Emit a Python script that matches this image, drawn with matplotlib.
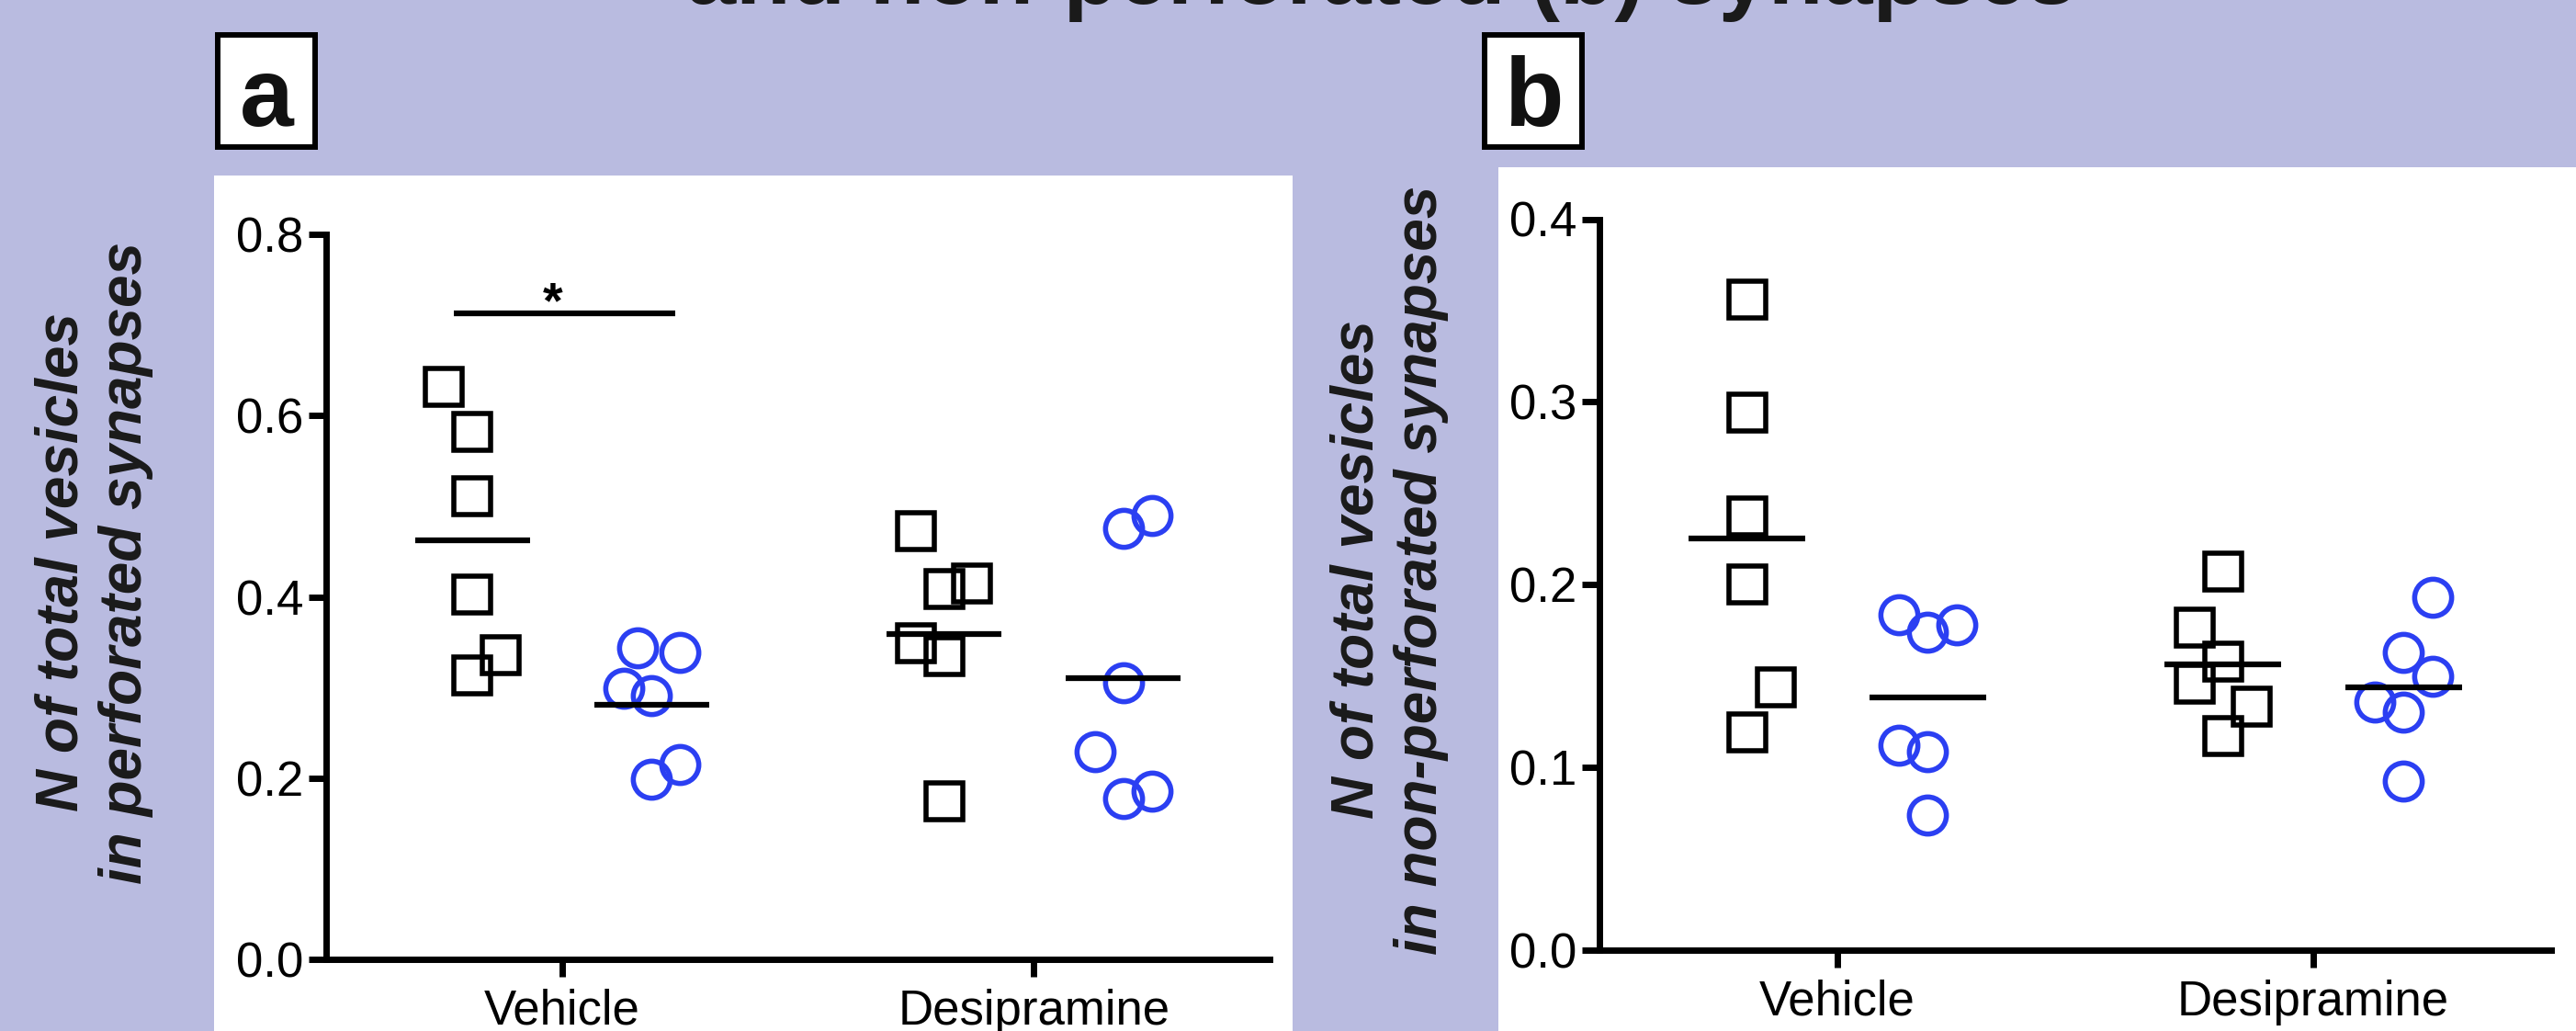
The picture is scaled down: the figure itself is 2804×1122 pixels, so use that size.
import matplotlib
matplotlib.use('Agg')
import matplotlib.pyplot as plt
from matplotlib.patches import Rectangle
import numpy as np

# groups on the x axis
groups = ['Vehicle', 'Desipramine']

# panel a: N of total vesicles in perforated synapses
a_veh_sq = [0.632, 0.582, 0.511, 0.403, 0.336, 0.313]
a_veh_sq_jit = [-0.06, 0, 0, 0, 0.06, 0]
a_veh_ci = [0.344, 0.339, 0.299, 0.291, 0.215, 0.199]
a_veh_ci_jit = [-0.03, 0.06, -0.06, 0, 0.06, 0]
a_des_sq = [0.473, 0.409, 0.415, 0.349, 0.335, 0.174]
a_des_sq_jit = [-0.06, 0, 0.06, -0.06, 0, 0]
a_des_ci = [0.490, 0.476, 0.305, 0.229, 0.177, 0.186]
a_des_ci_jit = [0.06, 0, 0, -0.06, 0, 0.06]

# panel b: N of total vesicles in non-perforated synapses
b_veh_sq = [0.356, 0.294, 0.2375, 0.200, 0.144, 0.119]
b_veh_sq_jit = [0, 0, 0, 0, 0.06, 0]
b_veh_ci = [0.1835, 0.178, 0.174, 0.112, 0.1086, 0.074]
b_veh_ci_jit = [-0.06, 0.06, 0, -0.06, 0, 0]
b_des_sq = [0.207, 0.1767, 0.158, 0.146, 0.133, 0.117]
b_des_sq_jit = [0, -0.06, 0, -0.06, 0.06, 0]
b_des_ci = [0.193, 0.163, 0.1496, 0.136, 0.130, 0.0925]
b_des_ci_jit = [0.06, 0, 0.06, -0.06, 0, 0]

a_yticks = [0.0, 0.2, 0.4, 0.6, 0.8]
b_yticks = [0.0, 0.1, 0.2, 0.3, 0.4]

BG = '#B9BBE0'
BLUE = '#2B3FF2'
W, H = 2804, 1122

plt.rcParams['font.family'] = ['Liberation Sans', 'DejaVu Sans']

fig = plt.figure(figsize=(W / 100, H / 100), dpi=100)
fig.patch.set_facecolor(BG)


def fx(x):
    return x / W


def fy(y):
    return 1 - y / H


# white panels (behind the axes)
fig.patches.append(Rectangle((fx(233), 0), fx(1407) - fx(233), 1 - 191 / H,
                             transform=fig.transFigure, facecolor='white',
                             edgecolor='none', zorder=-5))
fig.patches.append(Rectangle((fx(1631), 0), 1 - fx(1631), 1 - 182 / H,
                             transform=fig.transFigure, facecolor='white',
                             edgecolor='none', zorder=-5))

# panel letters in boxes
for letter, x0 in [('a', 237), ('b', 1616)]:
    fig.patches.append(Rectangle((fx(x0), fy(160)), fx(106), 122 / H,
                                 transform=fig.transFigure, facecolor='white',
                                 edgecolor='black', lw=4.3, zorder=1))
    fig.text(fx(x0 + 53), fy(137), letter, ha='center', va='baseline',
             fontsize=76, fontweight='bold', color='#111111')

# title (second line, clipped at the top)
fig.text(fx(1504), fy(4), 'and non-perforated (b) synapses', ha='center',
         va='baseline', fontsize=70, fontweight='bold', color='#1a1a1a')

# y labels
fig.text(fx(102), fy(612), 'N of total vesicles\nin perforated synapses',
         rotation=90, ha='center', va='center', multialignment='center',
         fontsize=46, fontweight='bold', fontstyle='italic', color='#1a1a1a')
fig.text(fx(1512), fy(620), 'N of total vesicles\nin non-perforated synapses',
         rotation=90, ha='center', va='center', multialignment='center',
         fontsize=46, fontweight='bold', fontstyle='italic', color='#1a1a1a')


def draw_panel(ax, series, yticks):
    xs = np.arange(1, len(groups) + 1)
    for gi, (sq, sqj, ci, cij) in enumerate(series):
        c_sq = xs[gi] - 0.19
        c_ci = xs[gi] + 0.19
        ax.plot(c_sq + np.array(sqj), sq, linestyle='none', marker='s', ms=29,
                mfc='none', mec='black', mew=4, clip_on=False, zorder=3)
        ax.plot(c_ci + np.array(cij), ci, linestyle='none', marker='o', ms=29,
                mfc='none', mec=BLUE, mew=4, clip_on=False, zorder=3)
        ax.hlines(np.mean(sq), c_sq - 0.122, c_sq + 0.122, color='black', lw=4.5, zorder=4)
        ax.hlines(np.mean(ci), c_ci - 0.122, c_ci + 0.122, color='black', lw=4.5, zorder=4)
    ax.set_xlim(0.5, 2.5)
    ax.set_ylim(yticks[0], yticks[-1])
    ax.set_yticks(yticks)
    ax.set_yticklabels(['%.1f' % t for t in yticks])
    ax.set_xticks(xs)
    ax.set_xticklabels(groups)
    ax.set_facecolor('none')
    for s in ['top', 'right']:
        ax.spines[s].set_visible(False)
    for s in ['left', 'bottom']:
        ax.spines[s].set_linewidth(5)
    ax.tick_params(axis='both', length=14, width=5, labelsize=38, colors='black')
    ax.tick_params(axis='y', pad=3.5)
    ax.tick_params(axis='x', pad=9)


ax_a = fig.add_axes([fx(355), 1 - 1044 / H, fx(1027), 789 / H])
draw_panel(ax_a, [(a_veh_sq, a_veh_sq_jit, a_veh_ci, a_veh_ci_jit),
                  (a_des_sq, a_des_sq_jit, a_des_ci, a_des_ci_jit)], a_yticks)
# significance bar
ax_a.plot([0.77, 1.24], [0.713, 0.713], color='black', lw=4.5, solid_capstyle='butt')
ax_a.text(0.98, 0.708, '*', ha='center', va='baseline', fontsize=40, fontweight='bold')

ax_b = fig.add_axes([fx(1741), 1 - 1034 / H, fx(1036), 795.5 / H])
draw_panel(ax_b, [(b_veh_sq, b_veh_sq_jit, b_veh_ci, b_veh_ci_jit),
                  (b_des_sq, b_des_sq_jit, b_des_ci, b_des_ci_jit)], b_yticks)

fig.savefig('out.png', dpi=100, facecolor=fig.get_facecolor())
